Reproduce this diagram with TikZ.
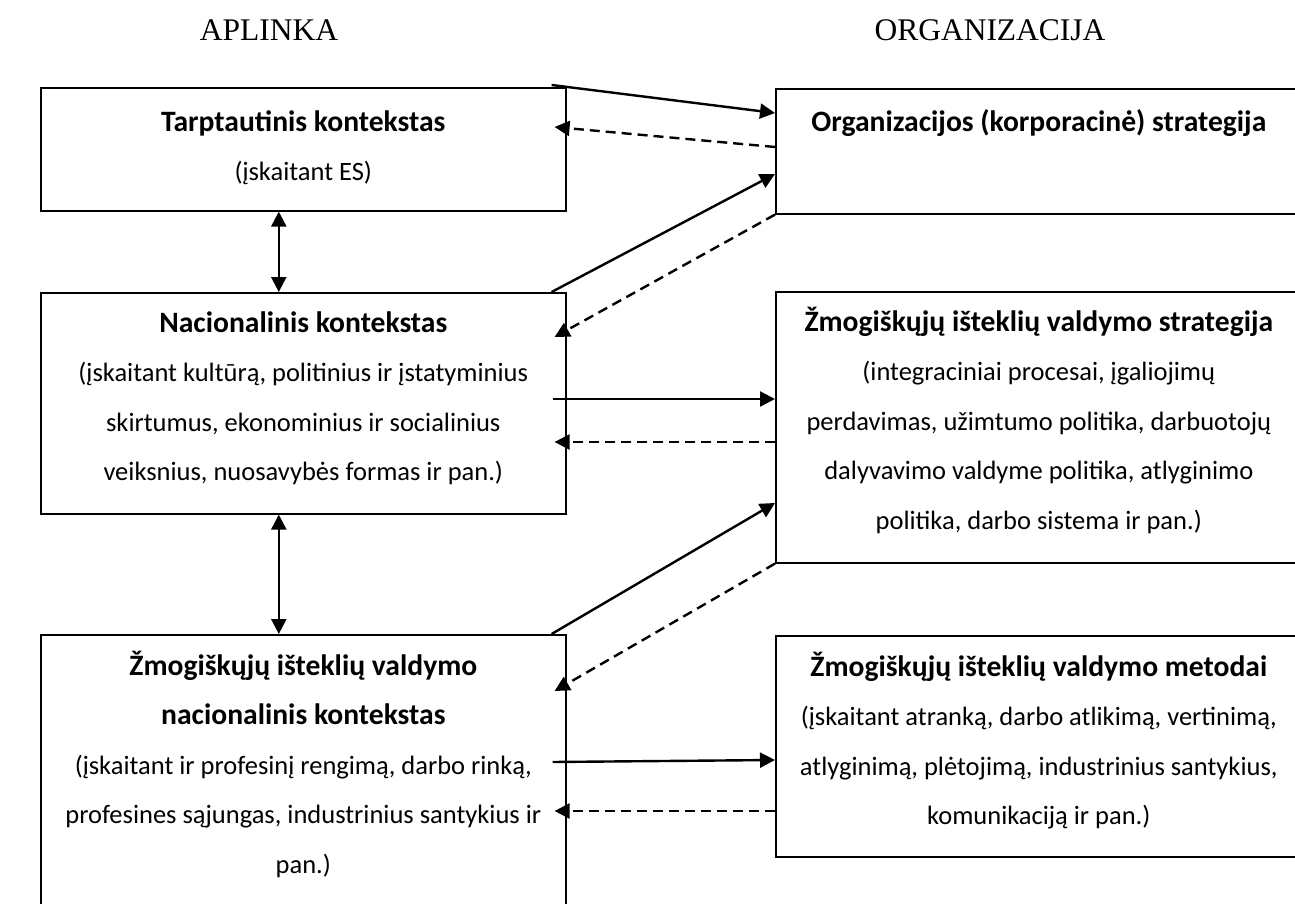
\documentclass[tikz,border=0pt]{standalone}
\usepackage{fontspec}
\setmainfont{Carlito}
\newfontfamily\headfont{Liberation Serif}
\usetikzlibrary{arrows.meta}
\newcommand\boxtitle[1]{{\fontsize{29.6}{49.5}\selectfont\bfseries #1}}
\begin{document}
\begin{tikzpicture}[x=1pt,y=-1pt,
  box/.style={draw, line width=1.6pt, anchor=north west, inner sep=0pt},
  txt/.style={anchor=north, align=center, inner sep=0pt, font=\fontsize{26.5}{49.5}\selectfont},
  head/.style={inner sep=0pt, font=\headfont\fontsize{31.5}{31.5}\selectfont},
  tip/.tip={Triangle[length=15pt,width=15pt]},
  conn/.style={line width=2.4pt, -tip},
  dconn/.style={conn, dash pattern=on 10pt off 6pt},
  biconn/.style={line width=2.4pt, tip-tip},
]
\useasboundingbox (0,0) rectangle (1295,904);
\node[head] (h1) at (269,30) {APLINKA};
\node[head] (h2) at (990,30) {ORGANIZACIJA};
% boxes
\node[box, minimum width=525pt, minimum height=123pt] (b1) at (40,87) {};
\node[box, minimum width=526pt, minimum height=125pt] (b2) at (775,88) {};
\node[box, minimum width=525pt, minimum height=221pt] (b3) at (40,292) {};
\node[box, minimum width=526pt, minimum height=271pt] (b4) at (775,291) {};
\node[box, minimum width=525pt, minimum height=300pt] (b5) at (40,634) {};
\node[box, minimum width=526pt, minimum height=221pt] (b6) at (775,635) {};
% texts
\node[txt] (t1) at ([yshift=-18pt]b1.north) {\rule{0pt}{26pt}\boxtitle{Tarptautinis kontekstas}\\(įskaitant ES)};
\node[txt] (t2) at ([yshift=-17pt]b2.north) {\rule{0pt}{26pt}\boxtitle{Organizacijos (korporacinė) strategija}};
\node[txt] (t3) at ([yshift=-14pt]b3.north) {\rule{0pt}{26pt}\boxtitle{Nacionalinis kontekstas}\\(įskaitant kultūrą, politinius ir įstatyminius\\skirtumus, ekonominius ir socialinius\\veiksnius, nuosavybės formas ir pan.)};
\node[txt] (t4) at ([yshift=-14pt]b4.north) {\rule{0pt}{26pt}\boxtitle{Žmogiškųjų išteklių valdymo strategija}\\(integraciniai procesai, įgaliojimų\\perdavimas, užimtumo politika, darbuotojų\\dalyvavimo valdyme politika, atlyginimo\\politika, darbo sistema ir pan.)};
\node[txt] (t5) at ([yshift=-15pt]b5.north) {\rule{0pt}{26pt}\boxtitle{Žmogiškųjų išteklių valdymo}\\\boxtitle{nacionalinis kontekstas}\\(įskaitant ir profesinį rengimą, darbo rinką,\\profesines sąjungas, industrinius santykius ir\\pan.)};
\node[txt] (t6) at ([yshift=-15pt]b6.north) {\rule{0pt}{26pt}\boxtitle{Žmogiškųjų išteklių valdymo metodai}\\(įskaitant atranką, darbo atlikimą, vertinimą,\\atlyginimą, plėtojimą, industrinius santykius,\\komunikaciją ir pan.)};
% vertical double arrows
\draw[biconn] ([xshift=-24.5pt]b1.south) -- ([xshift=-24.5pt]b3.north);
\draw[biconn] ([xshift=-24.5pt]b3.south) -- ([xshift=-24.5pt]b5.north);
% connectors
\draw[conn] ([xshift=-15pt,yshift=2pt]b1.north east) -- ([yshift=-25pt]b2.north west);
\draw[dconn] ([yshift=-59pt]b2.north west) -- ([xshift=-12pt,yshift=-40pt]b1.north east);
\draw[conn] ([xshift=-15pt]b3.north east) -- ([yshift=-86pt]b2.north west);
\draw[dconn] (b2.south west) -- ([xshift=-12pt,yshift=-45pt]b3.north east);
\draw[conn] ([xshift=-14pt,yshift=-107pt]b3.north east) -- ([yshift=-108pt]b4.north west);
\draw[dconn] ([yshift=-151pt]b4.north west) -- ([xshift=-12pt,yshift=-150pt]b3.north east);
\draw[conn] ([xshift=-15pt]b5.north east) -- ([yshift=-212pt]b4.north west);
\draw[dconn] (b4.south west) -- ([xshift=-12pt,yshift=-57pt]b5.north east);
\draw[conn] ([xshift=-14pt,yshift=-128pt]b5.north east) -- ([yshift=-125pt]b6.north west);
\draw[dconn] ([yshift=-176pt]b6.north west) -- ([xshift=-12pt,yshift=-177pt]b5.north east);
\end{tikzpicture}
\end{document}
